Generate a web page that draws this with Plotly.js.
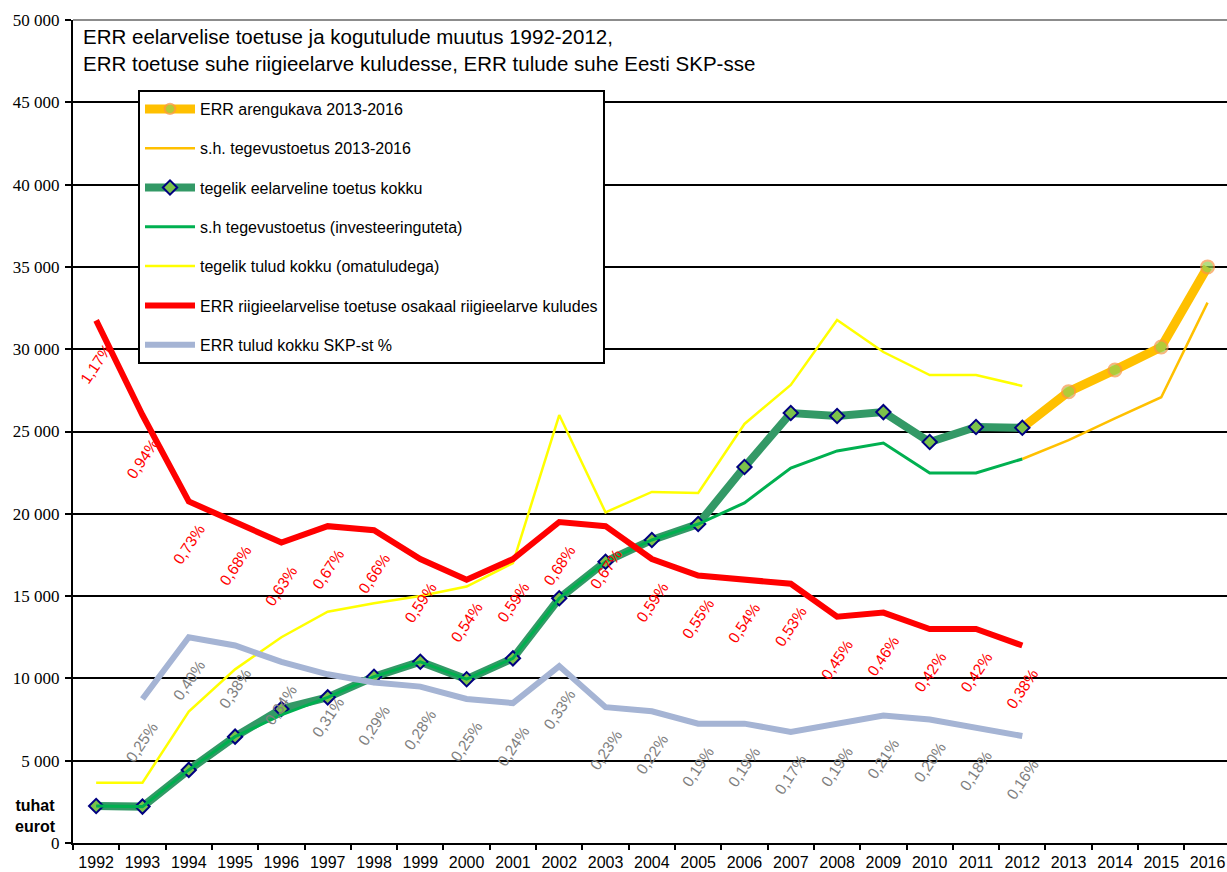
<!DOCTYPE html>
<html>
<head>
<meta charset="utf-8">
<script src="https://cdn.plot.ly/plotly-3.0.1.min.js"></script>
<style>html,body{margin:0;padding:0;background:#fff;}#chart{width:1227px;height:872px;}</style>
</head>
<body>
<div id="chart"></div>
<script>
// ---- data ----
const years = ['1992','1993','1994','1995','1996','1997','1998','1999','2000','2001','2002','2003','2004','2005','2006','2007','2008','2009','2010','2011','2012','2013','2014','2015','2016'];
const actualYears = years.slice(0, 21);           // 1992-2012
const planYears = ['2012','2013','2014','2015','2016'];

// tuhat eurot
const planTotal = [25230, 27420, 28740, 30130, 35000];        // ERR arengukava 2013-2016
const planOperating = [23330, 24480, 25800, 27080, 32830];    // s.h. tegevustoetus 2013-2016
const actualSupport = [2250, 2210, 4440, 6460, 8140, 8850, 10100, 11010, 9950, 11220, 14870, 17090, 18410, 19380, 22840, 26120, 25940, 26180, 24360, 25270, 25230];
const actualOperating = [2250, 2210, 4440, 6460, 7780, 8850, 10100, 11010, 9950, 11220, 14870, 17090, 18410, 19380, 20660, 22780, 23820, 24300, 22480, 22480, 23330];
const actualRevenue = [3665, 3665, 7980, 10550, 12500, 14050, 14560, 15010, 15580, 17010, 26000, 20090, 21330, 21270, 25460, 27830, 31780, 29830, 28430, 28430, 27770];

// %
const shareOfBudget = [1.17, 0.94, 0.73, 0.68, 0.63, 0.67, 0.66, 0.59, 0.54, 0.59, 0.68, 0.67, 0.59, 0.55, 0.54, 0.53, 0.45, 0.46, 0.42, 0.42, 0.38];
const shareOfGDP = [null, 0.25, 0.40, 0.38, 0.34, 0.31, 0.29, 0.28, 0.25, 0.24, 0.33, 0.23, 0.22, 0.19, 0.19, 0.17, 0.19, 0.21, 0.20, 0.18, 0.16];

const yTicks = [0, 5000, 10000, 15000, 20000, 25000, 30000, 35000, 40000, 45000, 50000];

const names = [
  'ERR arengukava 2013-2016',
  's.h. tegevustoetus 2013-2016',
  'tegelik eelarveline toetus kokku',
  's.h tegevustoetus (investeeringuteta)',
  'tegelik tulud kokku (omatuludega)',
  'ERR riigieelarvelise toetuse osakaal riigieelarve kuludes',
  'ERR tulud kokku SKP-st %'
];

const SANS = 'Liberation Sans, Arial, sans-serif';
const SERIF = 'Liberation Serif, Times New Roman, serif';

const traces = [
  {x: planYears, y: planOperating, name: names[1], legendrank: 2, legendgroup: 'g2',
   mode: 'lines', line: {color: '#FFC000', width: 2.5}},
  {x: planYears, y: planTotal, name: names[0], legendrank: 1, legendgroup: 'g1',
   mode: 'lines+markers', line: {color: '#FFC000', width: 9},
   marker: {symbol: 'circle', size: [0, 13, 13, 13, 13], color: '#92D050', line: {color: '#F79646', width: 2}}},
  {x: actualYears, y: actualSupport, name: names[2], legendrank: 3, legendgroup: 'g3',
   mode: 'lines+markers', line: {color: '#339966', width: 8},
   marker: {symbol: 'diamond', size: 11, color: '#7CC24A', line: {color: '#000080', width: 2}}},
  {x: actualYears, y: actualOperating, name: names[3], legendrank: 4, legendgroup: 'g4',
   mode: 'lines', line: {color: '#00B050', width: 3}},
  {x: actualYears, y: actualRevenue, name: names[4], legendrank: 5, legendgroup: 'g5',
   mode: 'lines', line: {color: '#FFFF00', width: 2.5}},
  {x: actualYears, y: shareOfGDP, name: names[6], legendrank: 7, legendgroup: 'g7', yaxis: 'y2',
   mode: 'lines', line: {color: '#A5B4D4', width: 6}},
  {x: actualYears, y: shareOfBudget, name: names[5], legendrank: 6, legendgroup: 'g6', yaxis: 'y2',
   mode: 'lines', line: {color: '#FF0000', width: 6}}
];

const fmtPct = v => v.toFixed(2).replace('.', ',') + '%';
const annotations = [];
function addLabels(values, color) {
  values.forEach((v, i) => {
    if (v == null) return;
    // on a category axis, annotation x is the category's serial number
    annotations.push({x: years.indexOf(actualYears[i]), y: v, xref: 'x', yref: 'y2', text: fmtPct(v), showarrow: false,
      xanchor: 'center', yanchor: 'middle',
      textangle: -56, yshift: -43, font: {family: SANS, size: 15.5, color: color}});
  });
}
addLabels(shareOfBudget, '#FF0000');
addLabels(shareOfGDP, '#808080');
annotations.push({xref: 'paper', yref: 'paper', x: -38 / 1154, y: 27 / 823, xanchor: 'center', yanchor: 'middle',
  text: '<b>tuhat<br>eurot</b>', showarrow: false, align: 'center', font: {family: SANS, size: 16, color: '#000'}});

const layout = {
  width: 1227, height: 872,
  margin: {l: 73, r: 0, t: 20, b: 29},
  paper_bgcolor: '#fff', plot_bgcolor: '#fff',
  separators: ', ',
  showlegend: true,
  title: {
    text: 'ERR eelarvelise toetuse ja kogutulude muutus 1992-2012,<br>ERR toetuse suhe riigieelarve kuludesse, ERR tulude suhe Eesti SKP-sse',
    x: 83 / 1227, xanchor: 'left', xref: 'container',
    y: 1 - 44 / 872, yanchor: 'middle', yref: 'container',
    font: {family: SANS, size: 20.5, color: '#000'}
  },
  xaxis: {
    type: 'category', categoryorder: 'array', categoryarray: years,
    range: [-0.5, 24.42], tickson: 'boundaries',
    ticks: 'outside', ticklen: 5, tickwidth: 2, tickcolor: '#000',
    showline: true, linewidth: 2, linecolor: '#000', showgrid: false, zeroline: false,
    tickfont: {family: SANS, size: 16, color: '#000'}, ticklabelstandoff: 4, fixedrange: true
  },
  yaxis: {
    range: [0, 50000], tickvals: yTicks,
    tickformat: ',d', ticks: 'outside', ticklen: 6, tickwidth: 2, tickcolor: '#000',
    showline: true, linewidth: 2, linecolor: '#000', showgrid: true, gridcolor: '#000', gridwidth: 2,
    zeroline: false, tickfont: {family: SERIF, size: 17, color: '#000'}, ticklabelstandoff: 2, fixedrange: true
  },
  yaxis2: {overlaying: 'y', side: 'right', range: [-0.1, 1.9], visible: true,
    showticklabels: false, ticks: '', showgrid: false, zeroline: false, showline: false, fixedrange: true},
  legend: {
    x: 65 / 1154, xanchor: 'left', y: (843 - 90) / 823, yanchor: 'top',
    bgcolor: '#fff', bordercolor: '#000', borderwidth: 2,
    font: {family: SANS, size: 16, color: '#000'},
    traceorder: 'grouped', tracegroupgap: 15.5, itemwidth: 50
  },
  shapes: [
    {type: 'line', xref: 'paper', yref: 'paper', x0: 0, x1: 1, y0: 1, y1: 1, line: {color: '#8C8C8C', width: 2}}
  ],
  annotations: annotations
};

Plotly.newPlot('chart', traces, layout, {displayModeBar: false, staticPlot: true});
</script>
</body>
</html>
